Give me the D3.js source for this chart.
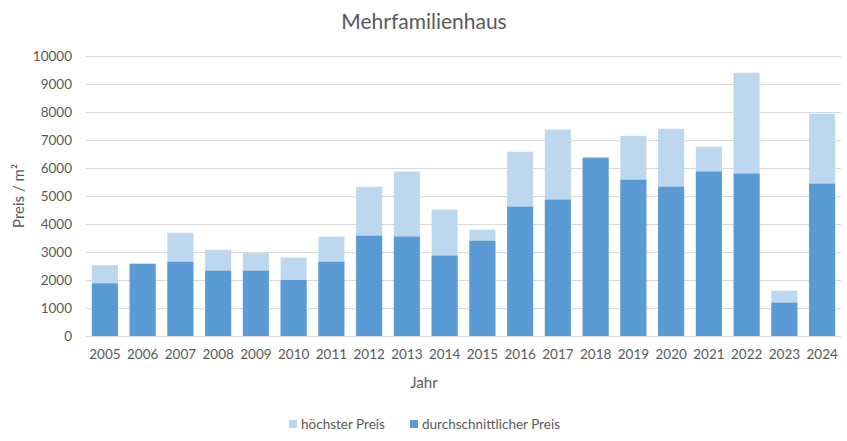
<!DOCTYPE html>
<html><head><meta charset="utf-8">
<script src="https://cdn.jsdelivr.net/npm/d3@7"></script>
<style>body{margin:0;background:#fff}svg{display:block}text{font-family:Lato,"Open Sans",sans-serif;fill:#595959}</style>
</head><body><svg id="c" width="847" height="441"></svg>
<script>
const years = ["2005","2006","2007","2008","2009","2010","2011","2012","2013","2014","2015","2016","2017","2018","2019","2020","2021","2022","2023","2024"];
const hoechsterPreis = [2530,2580,3690,3080,2960,2800,3550,5330,5870,4510,3800,6580,7370,6370,7150,7400,6760,9400,1620,7940];
const durchschnittPreis = [1880,2580,2650,2330,2330,2000,2650,3580,3550,2870,3400,4620,4870,6370,5580,5330,5870,5800,1190,5440];
const yTicks = [0,1000,2000,3000,4000,5000,6000,7000,8000,9000,10000];

const svg = d3.select("#c");
const x = d3.scaleBand().domain(years).range([86,841]).paddingInner(0.31).paddingOuter(0.155);
const y = d3.scaleLinear().domain([0,10000]).range([336,56]);

// gridlines
svg.append("g").selectAll("line").data(yTicks).join("line")
  .attr("x1",86).attr("x2",841).attr("y1",d=>y(d)).attr("y2",d=>y(d))
  .attr("stroke","#d9d9d9").attr("stroke-width",1).attr("shape-rendering","crispEdges");

// y axis labels
const yAxis = d3.axisLeft(y).tickValues(yTicks).tickFormat(d3.format("d")).tickSize(0).tickPadding(0);
const ga = svg.append("g").attr("transform","translate(72,0)").call(yAxis);
ga.select(".domain").remove();
ga.selectAll("text").attr("font-size",13.5).style("font-family","Lato,sans-serif").attr("fill","#595959");

// bars
svg.append("g").selectAll("rect").data(years).join("rect")
  .attr("x",d=>x(d)).attr("width",x.bandwidth())
  .attr("y",(d,i)=>y(hoechsterPreis[i])).attr("height",(d,i)=>y(0)-y(hoechsterPreis[i]))
  .attr("fill","#bdd7ee");
svg.append("g").selectAll("rect").data(years).join("rect")
  .attr("x",d=>x(d)).attr("width",x.bandwidth())
  .attr("y",(d,i)=>y(durchschnittPreis[i])).attr("height",(d,i)=>y(0)-y(durchschnittPreis[i]))
  .attr("fill","#5b9bd5");

// x axis labels
const xAxis = d3.axisBottom(x).tickSize(0).tickPadding(0);
const gx = svg.append("g").attr("transform","translate(0,349)").call(xAxis);
gx.select(".domain").remove();
gx.selectAll("text").attr("font-size",13.5).attr("dy","0.71em").style("font-family","Lato,sans-serif").attr("fill","#595959");

// titles
svg.append("text").attr("x",424).attr("y",29).attr("text-anchor","middle").attr("font-size",21).text("Mehrfamilienhaus");
svg.append("text").attr("x",424).attr("y",388).attr("text-anchor","middle").attr("font-size",15).text("Jahr");
svg.append("text").attr("transform","translate(24,196) rotate(-90)").attr("text-anchor","middle").attr("font-size",15).text("Preis / m²");

// legend
const legend = [{label:"höchster Preis",color:"#bdd7ee",x:289},{label:"durchschnittlicher Preis",color:"#5b9bd5",x:410}];
const lg = svg.append("g").selectAll("g").data(legend).join("g").attr("transform",d=>`translate(${d.x},420)`);
lg.append("rect").attr("width",8).attr("height",8).attr("fill",d=>d.color);
lg.append("text").attr("x",12).attr("y",8.5).attr("font-size",13.5).text(d=>d.label);
</script></body></html>
